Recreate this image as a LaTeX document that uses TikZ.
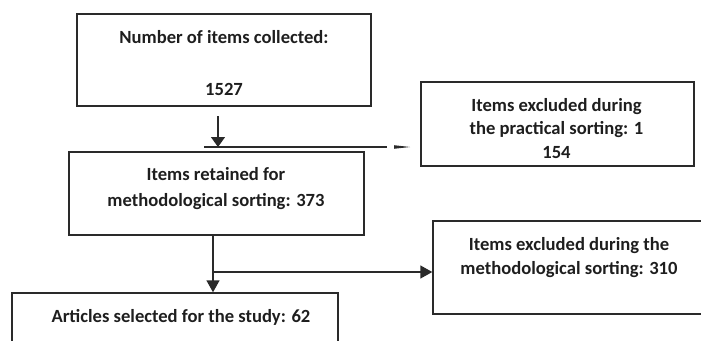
\documentclass[tikz,border=0pt]{standalone}
\usepackage{fontspec}
\setmainfont{Carlito}
\usetikzlibrary{arrows.meta,calc}
\definecolor{ln}{HTML}{2A2A2A}
\definecolor{tx}{HTML}{1E1E1E}
\begin{document}
\begin{tikzpicture}[x=1pt,y=-1pt,
  box/.style={draw=ln, line width=1.4pt, rectangle, inner sep=0pt},
  txt/.style={anchor=base, text=tx, font=\fontsize{18.6}{22}\selectfont\bfseries, inner sep=0pt},
  conn/.style={draw=ln, line width=1.4pt},
  arr/.style={conn, -{Triangle[length=12pt,width=13pt]}}]
\useasboundingbox (0,0) rectangle (701,340);
\clip (0,0) rectangle (701,340);
% boxes
\node[box, minimum width=294pt, minimum height=92pt] (b1) at (224,60) {};
\node[box, minimum width=273pt, minimum height=84pt] (b2) at (557.5,124) {};
\node[box, minimum width=295pt, minimum height=83pt] (b3) at (216.5,193.5) {};
\node[box, minimum width=300pt, minimum height=93pt] (b5) at (583,267.5) {};
\node[box, minimum width=326pt, minimum height=80pt] (b4) at (175,333) {};
% texts
\node[txt] (t1a) at (224,43) {Number of items collected:};
\node[txt] (t1b) at (224,95) {1527};
\node[txt] (t2a) at (556.5,111) {Items excluded during};
\node[txt] (t2b) at (556.5,134.5) {the practical sorting: 1};
\node[txt] (t2c) at (556.5,158) {154};
\node[txt] (t3a) at (216,180) {Items retained for};
\node[txt] (t3b) at (216,206) {methodological sorting: 373};
\node[txt] (t5a) at (569,250) {Items excluded during the};
\node[txt] (t5b) at (569,274) {methodological sorting: 310};
\node[txt] (t4a) at (181,322) {Articles selected for the study: 62};
% connectors
\coordinate (h1l) at (204,147);
\coordinate (h1r) at (387,147);
\coordinate (a1s) at (218,116);
\draw[conn] (h1l) -- (h1r);
\draw[arr, -{Triangle[length=10pt,width=14pt]}] (a1s) -- (a1s |- h1l);
\coordinate (sh1) at (394,147);
\coordinate (sh2) at (410,147);
\fill[ln] ($(sh1)+(0,-1.8)$) -- (sh2) -- ($(sh1)+(0,1.8)$) -- cycle;
\coordinate (a2s) at ($(b3.south)+(-3.5,0)$);
\draw[arr] (a2s) -- (a2s |- b4.north);
\coordinate (br) at (213,272);
\draw[arr] (br) -- (br -| b5.west);
\end{tikzpicture}
\end{document}
